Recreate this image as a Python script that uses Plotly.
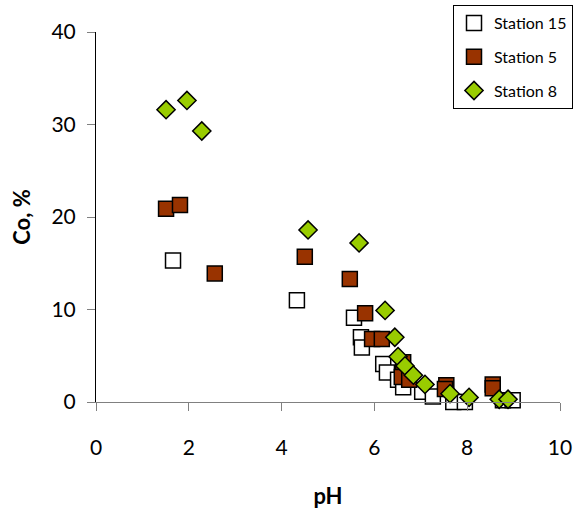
import plotly.graph_objects as go

# Station 15 (open squares)
s15_ph = [1.66, 4.33, 5.56, 5.71, 5.73, 6.19, 6.27, 6.51, 6.62, 7.03, 7.26, 7.70, 7.95, 8.77, 8.98]
s15_co = [15.3, 11.0, 9.1, 7.0, 5.9, 4.1, 3.2, 2.4, 1.6, 1.1, 0.6, 0.0, 0.0, 0.2, 0.2]

# Station 5 (brown squares)
s5_ph = [1.51, 1.81, 2.56, 4.50, 5.47, 5.80, 5.95, 6.16, 6.62, 6.59, 6.75, 7.55, 7.52, 8.55, 8.55]
s5_co = [20.9, 21.3, 13.9, 15.7, 13.3, 9.6, 6.8, 6.8, 4.3, 2.7, 2.4, 1.8, 1.4, 1.9, 1.5]

# Station 8 (green diamonds)
s8_ph = [1.51, 1.96, 2.28, 4.57, 5.67, 6.23, 6.44, 6.51, 6.66, 6.84, 7.09, 7.63, 8.04, 8.69, 8.88]
s8_co = [31.6, 32.6, 29.3, 18.6, 17.2, 9.9, 7.0, 4.9, 3.9, 2.9, 1.9, 0.9, 0.5, 0.3, 0.3]

x_ticks = [0, 2, 4, 6, 8, 10]
y_ticks = [0, 10, 20, 30, 40]

FONT = "Lato, 'Open Sans', sans-serif"

fig = go.Figure()
fig.add_trace(go.Scatter(
    x=s15_ph, y=s15_co, mode="markers", name="Station 15", legendgroup="a",
    marker=dict(symbol="square", size=15, color="white", line=dict(color="black", width=1.5)),
    cliponaxis=False))
fig.add_trace(go.Scatter(
    x=s5_ph, y=s5_co, mode="markers", name="Station 5", legendgroup="b",
    marker=dict(symbol="square", size=15, color="#993300", line=dict(color="black", width=1.5)),
    cliponaxis=False))
fig.add_trace(go.Scatter(
    x=s8_ph, y=s8_co, mode="markers", name="Station 8", legendgroup="c",
    marker=dict(symbol="diamond", size=14, color="#99CC00", line=dict(color="black", width=1.5)),
    cliponaxis=False))

fig.update_layout(
    width=575, height=519,
    margin=dict(l=96, r=15, t=32, b=117, autoexpand=False),
    plot_bgcolor="white", paper_bgcolor="white",
    font=dict(family=FONT, color="black", size=21),
    showlegend=True,
    legend=dict(
        x=(453 - 96) / 464, y=(402 - 5) / 370, xanchor="left", yanchor="top",
        bordercolor="black", borderwidth=1, bgcolor="white",
        font=dict(size=16, family=FONT), tracegroupgap=10, itemwidth=30,
    ),
    xaxis=dict(
        range=[0, 10], tickvals=x_ticks, showgrid=False, zeroline=False,
        showline=True, linecolor="#808080", linewidth=1,
        ticks="outside", ticklen=8, tickcolor="#808080",
        ticklabelstandoff=19,
        title=dict(text="<b>pH</b>", font=dict(size=22), standoff=30),
    ),
    yaxis=dict(
        range=[0, 40], tickvals=y_ticks, showgrid=False, zeroline=False,
        showline=True, linecolor="black", linewidth=1,
        ticks="outside", ticklen=8, tickcolor="#808080",
        ticklabelstandoff=7,
        title=dict(text="<b>Co, %</b>", font=dict(size=22), standoff=14),
    ),
)

fig.write_html("out.html")
